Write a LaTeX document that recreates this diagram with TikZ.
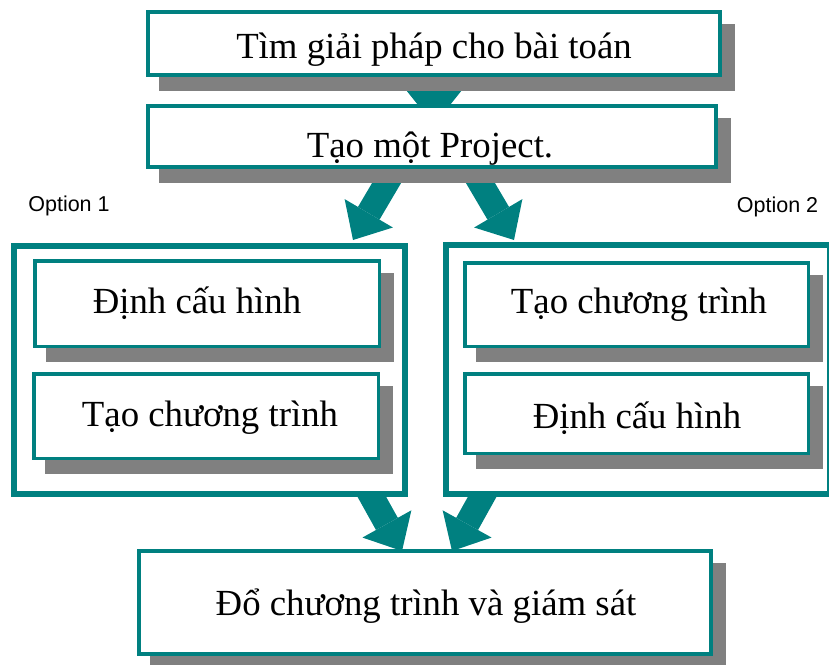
\documentclass[tikz,border=0pt]{standalone}
\usepackage{fontspec}
\setmainfont{Liberation Serif}
\newfontfamily\optfont{Liberation Sans}
\usetikzlibrary{arrows.meta,calc}
\definecolor{tealc}{RGB}{0,128,128}
\definecolor{shadc}{RGB}{128,128,128}
\pgfdeclarelayer{arrowlayer}
\pgfdeclarelayer{contlayer}
\pgfdeclarelayer{shadlayer}
\pgfsetlayers{arrowlayer,contlayer,shadlayer,main}
\tikzset{
  mainbox/.style={draw=tealc, line width=4pt, fill=white, inner sep=0pt, rectangle},
  innerbox/.style={draw=tealc, line width=3.5pt, fill=white, inner sep=0pt, rectangle},
  container/.style={draw=tealc, line width=6pt, fill=white, inner sep=0pt, rectangle},
  boxtext/.style={anchor=base, inner sep=0pt, font=\fontsize{36.8}{40}\selectfont},
  opttext/.style={anchor=base, inner sep=0pt, font=\optfont\fontsize{21.5}{24}\selectfont},
  shadowfill/.style={fill=shadc},
  fatarrow/.style={draw=tealc, line width=25pt, -{Triangle[width=56pt,length=31pt,line width=0pt]}},
  smallarrow/.style={draw=tealc, line width=30pt, -{Triangle[width=64pt,length=40pt,line width=0pt]}}
}
\begin{document}
\begin{tikzpicture}[x=1pt,y=-1pt]
\useasboundingbox (0,0) rectangle (829,664);
% main boxes
\node[mainbox, minimum width=572pt, minimum height=63pt] (b1) at (434,43.5) {};
\node[mainbox, minimum width=568pt, minimum height=61pt] (b2) at (432,136.5) {};
\node[mainbox, minimum width=572pt, minimum height=103pt] (b3) at (425,602.5) {};
% containers
\begin{pgfonlayer}{contlayer}
\node[container, minimum width=391pt, minimum height=248pt] (cL) at (209.5,370) {};
\node[container, minimum width=384pt, minimum height=249pt] (cR) at (638,369.5) {};
\end{pgfonlayer}
% inner boxes
\node[innerbox, minimum width=344.5pt, minimum height=85.5pt] (i1) at (207,303.5) {};
\node[innerbox, minimum width=344.5pt, minimum height=84.5pt] (i2) at (206,416) {};
\node[innerbox, minimum width=343.5pt, minimum height=83.5pt] (i3) at (636.5,304.5) {};
\node[innerbox, minimum width=343.5pt, minimum height=79.5pt] (i4) at (636.5,413.5) {};
% shadows
\begin{pgfonlayer}{shadlayer}
\foreach \n in {b1,b2,b3,i1,i2,i3,i4}
  \fill[shadowfill] ($(\n.north west)+(13,14)$) rectangle ($(\n.south east)+(13,14)$);
\end{pgfonlayer}
% texts
\node[boxtext] (t1) at (434,58) {Tìm giải pháp cho bài toán};
\node[boxtext] (t2) at (430,157) {Tạo một Project.};
\node[boxtext] (ti1) at (197,313) {Định cấu hình};
\node[boxtext] (ti2) at (210,426) {Tạo chương trình};
\node[boxtext] (ti3) at (639,313) {Tạo chương trình};
\node[boxtext] (ti4) at (637,428) {Định cấu hình};
\node[boxtext] (t3) at (426,615) {Đổ chương trình và giám sát};
\node[opttext] (o1) at (69,211) {Option 1};
\node[opttext] (o2) at (777.5,212) {Option 2};
% arrows
\coordinate (a0e) at (434,125);
\coordinate (aLs) at (391,175.5);
\coordinate (aLe) at (353,240);
\coordinate (aRs) at (476,175.5);
\coordinate (aRe) at (514,240);
\coordinate (bLs) at (363,481);
\coordinate (bLe) at (402,551);
\coordinate (bRs) at (491,481);
\coordinate (bRe) at (452,551);
\begin{pgfonlayer}{arrowlayer}
\draw[smallarrow] (b1.center) -- (a0e);
\draw[fatarrow] (aLs) -- (aLe);
\draw[fatarrow] (aRs) -- (aRe);
\draw[fatarrow] (bLs) -- (bLe);
\draw[fatarrow] (bRs) -- (bRe);
\end{pgfonlayer}
\end{tikzpicture}
\end{document}
